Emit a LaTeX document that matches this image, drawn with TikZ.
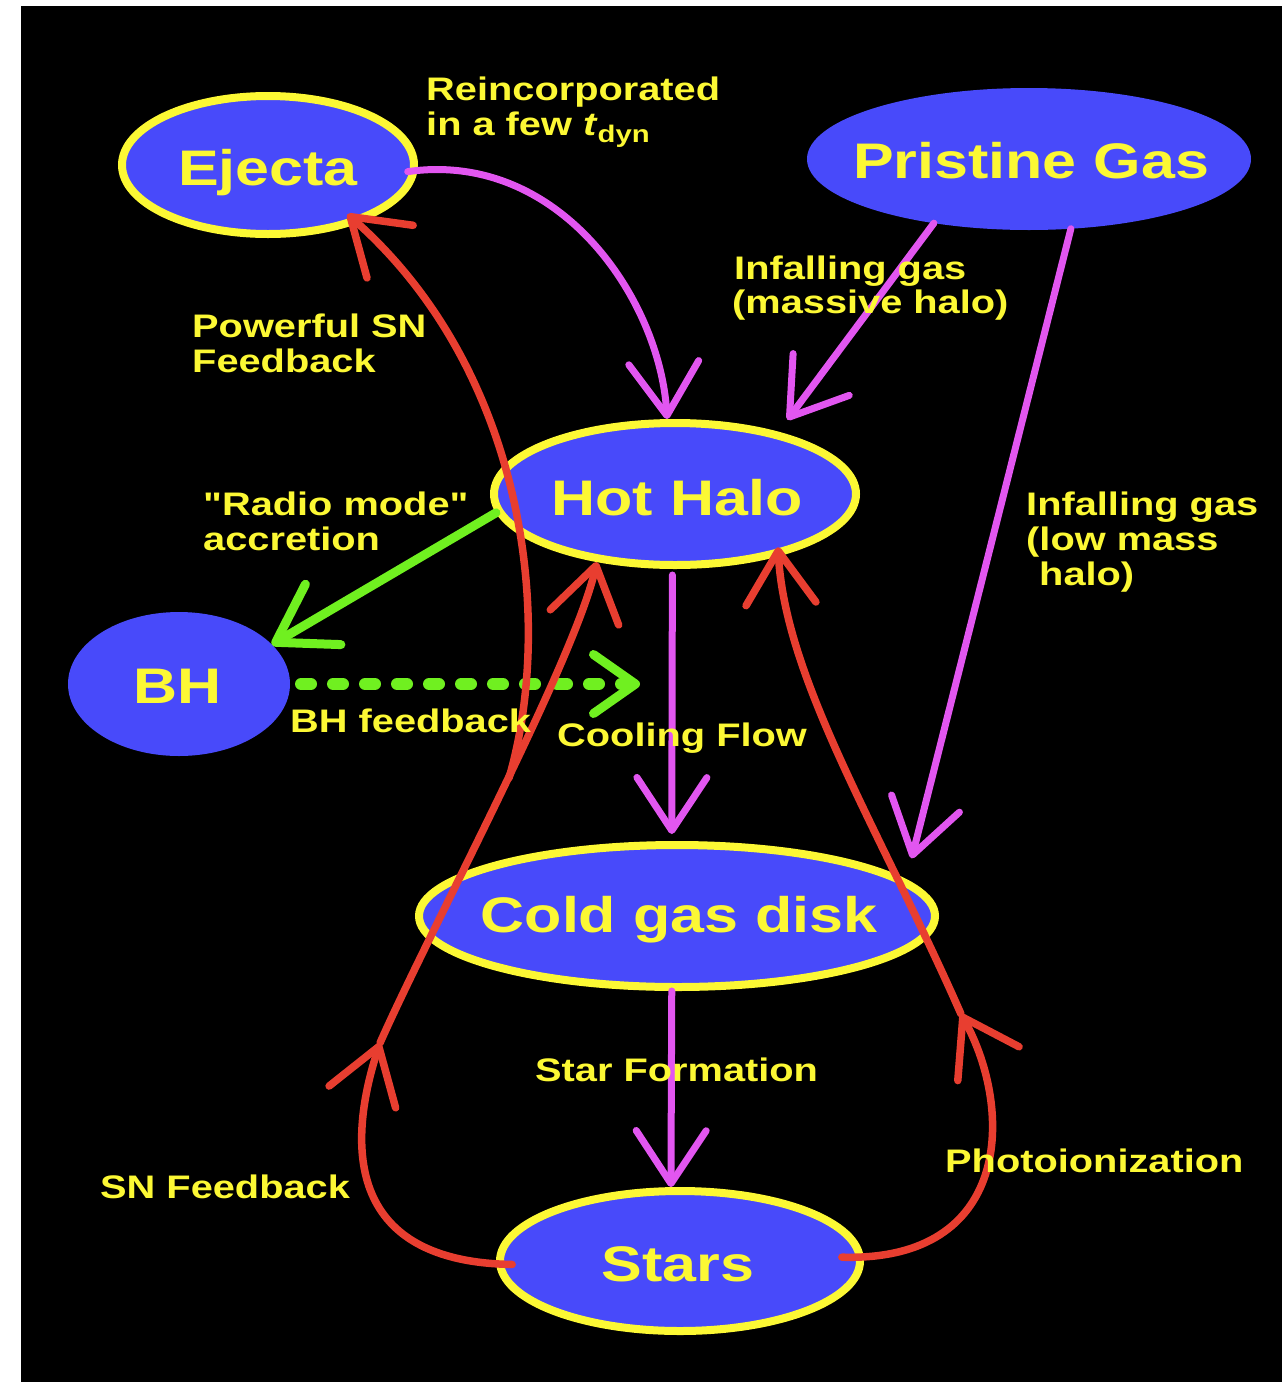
\documentclass[tikz,border=0pt]{standalone}
\usepackage{fontspec}
\setmainfont{Liberation Sans}[FakeStretch=1.22]
\newfontfamily\diagfont{Liberation Sans}[FakeStretch=1.22]
\usetikzlibrary{arrows.meta,shapes.geometric}
\definecolor{ellblue}{RGB}{72,74,250}
\definecolor{ylw}{RGB}{252,248,52}
\definecolor{magc}{RGB}{226,86,240}
\definecolor{redc}{RGB}{232,62,48}
\definecolor{grnc}{RGB}{112,240,32}
\begin{document}
\begin{tikzpicture}[x=1pt,y=-1pt,
  bubble/.style={ellipse, fill=ellblue, inner sep=0pt},
  rimmed/.style={bubble, draw=ylw, line width=8pt},
  plainbub/.style={bubble, outer sep=0pt},
  bigtxt/.style={text=ylw, font=\diagfont\bfseries\fontsize{50}{50}\selectfont, anchor=base, inner sep=0pt},
  lbl/.style={text=ylw, font=\diagfont\bfseries\fontsize{32.6}{32.6}\selectfont, anchor=base west, inner sep=0pt},
  tipA/.style={-{Straight Barb[length=53pt,width=70pt,round]}},
  magline/.style={draw=magc, line width=7pt, line cap=round, tipA},
  redline/.style={draw=redc, line width=7.5pt, line cap=round, tipA},
  grnline/.style={draw=grnc, line width=9pt, line cap=round, -{Straight Barb[length=55pt,width=70pt,round]}},
  grndash/.style={draw=grnc, line width=12pt, line cap=round, dash pattern=on 10pt off 22pt, -{Straight Barb[length=42pt,width=59pt,line width=9pt,round]}},
]
\useasboundingbox (0,0) rectangle (1287,1382);
\fill[white] (0,0) rectangle (1287,1382);
\fill[black] (21,6) rectangle (1281.7,1382);

% bubbles
\node[rimmed, minimum width=292pt, minimum height=138pt] (ejecta) at (268,165) {};
\node[plainbub, minimum width=444pt, minimum height=142pt] (pristine) at (1029,159) {};
\node[rimmed, minimum width=362pt, minimum height=142pt] (hothalo) at (675,494) {};
\node[plainbub, minimum width=222pt, minimum height=144pt] (bh) at (179,684) {};
\node[rimmed, minimum width=516pt, minimum height=142pt] (cold) at (677,916) {};
\node[rimmed, minimum width=360pt, minimum height=140pt] (stars) at (680,1261) {};

% green
\coordinate (fbend) at (640,684);
\draw[grnline] (hothalo.186) -- (bh.23);
\draw[grndash, shorten <=11pt] (bh.east) -- (fbend);

% magenta
\draw[magline, shorten <=-10pt] (ejecta.-2) .. controls (560,150) and (660,300) .. (hothalo.96);
\draw[magline, shorten >=15pt] (pristine.214) -- (hothalo.31);
\draw[magline, shorten >=22pt] (pristine.-59) -- (cold.9);
\draw[magline, shorten <=6pt, shorten >=7pt] (hothalo.-92) -- (cold.94);
\draw[magline] (cold.-94) -- (stars.97);

% red
\coordinate (snmid) at (380,1043);
\coordinate (powstart) at (509,778);
\coordinate (phmid) at (961,1014);
\draw[redline, shorten <=-16pt] (stars.181) .. controls (350,1262) and (345,1150) .. (snmid);
\draw[redline] (snmid) .. controls (430,930) and (575,660) .. (hothalo.221);
\draw[redline, shorten >=-14pt] (powstart) .. controls (555,620) and (525,370) .. (ejecta.-33);
\draw[redline, shorten <=-22pt] (stars.1) .. controls (1012,1262) and (1014,1110) .. (phmid);
\draw[redline, shorten >=-9pt] (phmid) .. controls (880,830) and (785,680) .. (hothalo.-31);

% bubble texts
\node[bigtxt] (ejectaT) at (268,185) {Ejecta};
\node[bigtxt] (pristineT) at (1031,178) {Pristine Gas};
\node[bigtxt] (hothaloT) at (677,515) {Hot Halo};
\node[bigtxt] (bhT) at (178,703) {BH};
\node[bigtxt] (coldT) at (679,932) {Cold gas disk};
\node[bigtxt] (starsT) at (678,1281) {Stars};

% labels
\node[lbl] (reincA) at (426,100) {Reincorporated};
\node[lbl] (reincB) at (426,135) {in a few \textit{t}\raisebox{-7pt}{\fontsize{24}{24}\selectfont dyn}};
\node[lbl] (powA) at (192,337) {Powerful SN};
\node[lbl] (powB) at (192,372) {Feedback};
\node[lbl] (infmA) at (734,279) {Infalling gas};
\node[lbl] (infmB) at (732,313) {(massive halo)};
\node[lbl] (radioA) at (203,515) {"Radio mode"};
\node[lbl] (radioB) at (203,550) {accretion};
\node[lbl] (inflA) at (1026,515) {Infalling gas};
\node[lbl] (inflB) at (1026,550) {(low mass};
\node[lbl] (inflC) at (1039,585) {halo)};
\node[lbl] (bhfb) at (290,732) {BH feedback};
\node[lbl] (coolfl) at (557,746) {Cooling Flow};
\node[lbl] (starf) at (535,1081) {Star Formation};
\node[lbl] (snfb) at (100,1198) {SN Feedback};
\node[lbl] (photo) at (945,1172) {Photoionization};
\end{tikzpicture}
\end{document}
